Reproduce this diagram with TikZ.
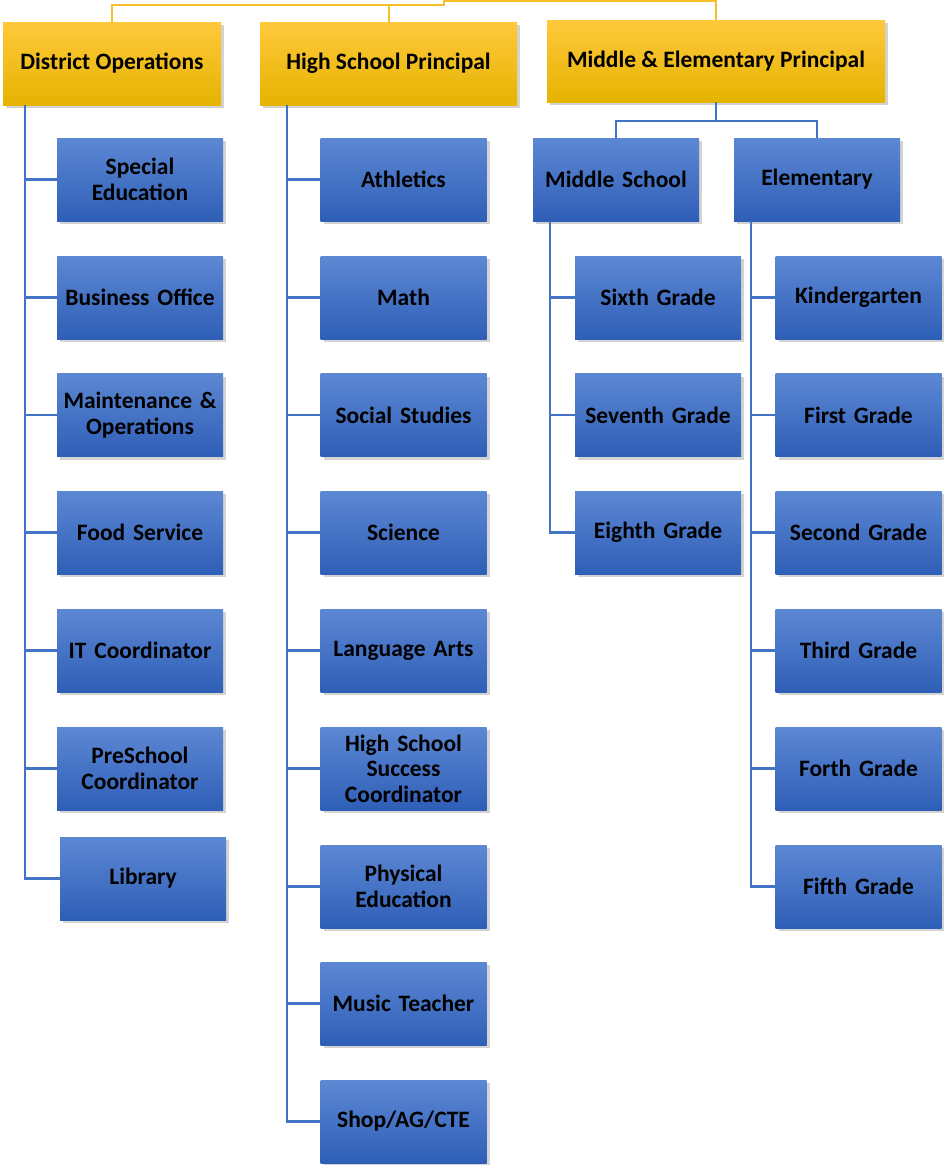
\documentclass[tikz,border=0pt]{standalone}
\usepackage{fontspec}
\setmainfont{Carlito}
\usepackage{tikz}
\usetikzlibrary{shadows}
\definecolor{goldTop}{HTML}{FFC93C}
\definecolor{goldBot}{HTML}{E5B300}
\definecolor{goldLine}{HTML}{F5C02A}
\definecolor{blueTop}{HTML}{5C88D3}
\definecolor{blueBot}{HTML}{2F5EB7}
\definecolor{blueLine}{HTML}{4472C4}
\tikzset{
  box/.style={minimum height=83pt, inner sep=1pt, align=center, text=black,
    font=\fontsize{23.5}{25.5}\selectfont\bfseries,
    drop shadow={opacity=0.35, shadow xshift=3pt, shadow yshift=-3pt}},
  head/.style={box, top color=goldTop, bottom color=goldBot},
  unit/.style={box, minimum width=166pt, text width=164pt, top color=blueTop, bottom color=blueBot},
  link/.style={draw=blueLine, line width=2.4pt},
  toplink/.style={draw=goldLine, line width=2pt}
}

\begin{document}
\begin{tikzpicture}[x=1pt,y=-1pt]
\useasboundingbox (0,0) rectangle (943,1165);
% principals
\node[head, minimum width=218pt] (dist) at (112,63.5) {District Operations};
\node[head, minimum width=257pt] (hsp) at (388.5,63.5) {High School Principal};
\node[head, minimum width=338pt, minimum height=82pt] (mep) at (716,61) {Middle \& Elementary Principal};
\draw[toplink] (dist.north) |- (444,5) -- (444,1) -| (mep.north);
\draw[toplink] (hsp.north) -- (hsp.north |- 0,5);
% district operations
\node[unit] (sped) at (140,179.5) {Special\\Education};
\node[unit] (bus)  at (140,297.5) {Business Office};
\node[unit] (mnt)  at (140,415)   {Maintenance \&\\Operations};
\node[unit] (food) at (140,532.5) {Food Service};
\node[unit] (itc)  at (140,650.5) {IT Coordinator};
\node[unit] (pre)  at (140,768.5) {PreSchool\\Coordinator};
\node[unit] (lib)  at (143,878.5) {Library};
\coordinate (distTrunk) at (25,105);
\foreach \n in {sped,bus,mnt,food,itc,pre,lib}
  \draw[link] (distTrunk) |- (\n.west);
% high school
\node[unit] (ath)  at (403.5,179.5)  {Athletics};
\node[unit] (math) at (403.5,297.5)  {Math};
\node[unit] (soc)  at (403.5,415)    {Social Studies};
\node[unit] (sci)  at (403.5,532.5)  {Science};
\node[unit] (lang) at (403.5,650.5)  {Language Arts};
\node[unit] (hssc) at (403.5,768.5)  {High School\\Success\\Coordinator};
\node[unit] (pe)   at (403.5,886.5)  {Physical\\Education};
\node[unit] (mus)  at (403.5,1003.5) {Music Teacher};
\node[unit] (shop) at (403.5,1121.5) {Shop/AG/CTE};
\coordinate (hsTrunk) at (287,105);
\foreach \n in {ath,math,soc,sci,lang,hssc,pe,mus,shop}
  \draw[link] (hsTrunk) |- (\n.west);
% middle and elementary
\node[unit] (ms) at (616,179.5) {Middle School};
\node[unit] (el) at (817,179.5) {Elementary};
\draw[link] (mep.south) -- ++(0,19) -| (ms.north);
\draw[link] (mep.south) -- ++(0,19) -| (el.north);
\node[unit] (g6) at (658,297.5) {Sixth Grade};
\node[unit] (g7) at (658,415)   {Seventh Grade};
\node[unit] (g8) at (658,532.5) {Eighth Grade};
\coordinate (msTrunk) at (550,221);
\foreach \n in {g6,g7,g8}
  \draw[link] (msTrunk) |- (\n.west);
\node[unit] (kg) at (858.5,297.5) {Kindergarten};
\node[unit] (g1) at (858.5,415)   {First Grade};
\node[unit] (g2) at (858.5,532.5) {Second Grade};
\node[unit] (g3) at (858.5,650.5) {Third Grade};
\node[unit] (g4) at (858.5,768.5) {Forth Grade};
\node[unit] (g5) at (858.5,886.5) {Fifth Grade};
\coordinate (elTrunk) at (751,221);
\foreach \n in {kg,g1,g2,g3,g4,g5}
  \draw[link] (elTrunk) |- (\n.west);
\end{tikzpicture}
\end{document}
